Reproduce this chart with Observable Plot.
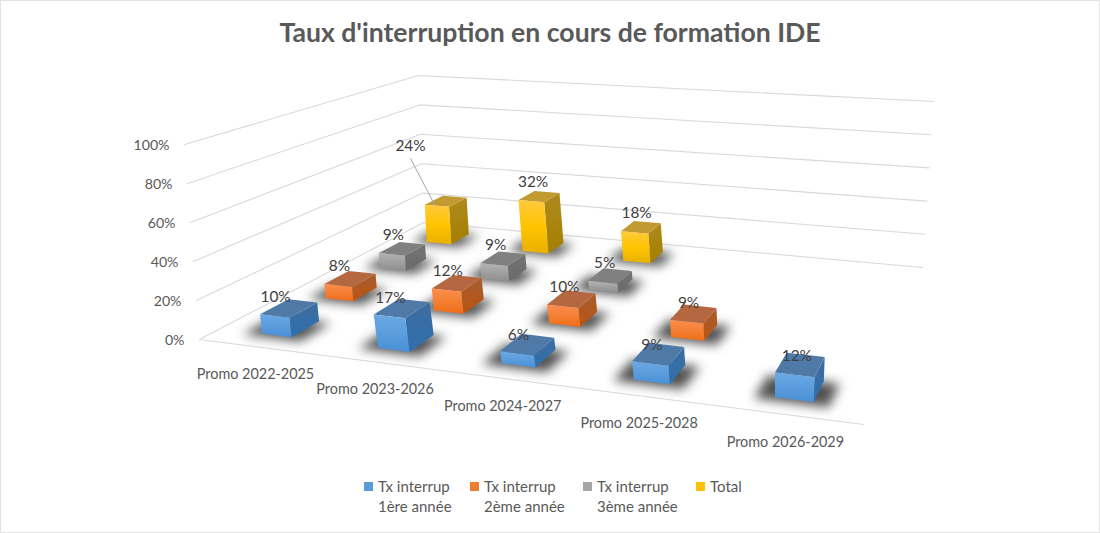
<!DOCTYPE html>
<html><head><meta charset="utf-8">
<script src="https://cdn.jsdelivr.net/npm/d3@7"></script>
<script src="https://cdn.jsdelivr.net/npm/@observablehq/plot@0.6"></script>
<style>
html,body{margin:0;background:#fff;font-family:Lato,sans-serif;color:#595959;}
#page{width:1100px;height:533px;position:relative;overflow:hidden;}
#page::after{content:"";position:absolute;left:0;top:0;right:0;bottom:0;border:1px solid #e2e2e2;box-sizing:border-box;pointer-events:none;}
#title{height:60px;line-height:64px;text-align:center;font-size:26.6px;font-weight:700;}
#chart svg{display:block;}
#legend{position:absolute;left:0;top:476px;width:100%;font-size:15px;line-height:20px;}
.lg{position:absolute;top:0;white-space:nowrap;padding-left:14px;}
.lg i{position:absolute;left:0;top:6px;width:9px;height:9px;}
</style></head><body>
<div id="page">
<div id="title">Taux d'interruption en cours de formation IDE</div>
<div id="chart"></div>
<div id="legend"></div>
</div>
<script>
const categories = ["Promo 2022-2025","Promo 2023-2026","Promo 2024-2027","Promo 2025-2028","Promo 2026-2029"];
const seriesNames = ["Tx interrup 1ère année","Tx interrup 2ème année","Tx interrup 3ème année","Total"];
const tx1 = [10,17,6,9,12];
const tx2 = [8,12,10,9,null];
const tx3 = [9,9,5,null,null];
const total = [24,32,18,null,null];
const seriesValues = [tx1,tx2,tx3,total];
const yTicks = [0,20,40,60,80,100];

// Camera calibration: the floor and ceiling of the 3D box, seen on the page
const floorQuad = [[199,339],[863,424],[922,267],[423,222]];
const ceilQuad  = [[184,144],[883,212],[933,101],[418,75]];

function homography(q){
  const [[x0,y0],[x1,y1],[x2,y2],[x3,y3]] = q;
  const dx1=x1-x2,dx2=x3-x2,sx=x0-x1+x2-x3,dy1=y1-y2,dy2=y3-y2,sy=y0-y1+y2-y3;
  const den=dx1*dy2-dx2*dy1, g=(sx*dy2-dx2*sy)/den, h=(dx1*sy-sx*dy1)/den;
  const a=x1-x0+g*x1,b=x3-x0+h*x3,d=y1-y0+g*y1,e=y3-y0+h*y3;
  return (u,v)=>{const w=g*u+h*v+1;return [(a*u+b*v+x0)/w,(d*u+e*v+y0)/w];};
}
const floorH=homography(floorQuad), ceilH=homography(ceilQuad);
function project(u,v,w){
  const p=floorH(u,v), q=ceilH(u,v), t=w/100;
  return {x:p[0]+(q[0]-p[0])*t, y:p[1]+(q[1]-p[1])*t};
}

const halfU=0.0262, halfV=0.053;
const palette=[
 {top:"#4f7aa8",front:["#6ca9e4","#4a90d6"],side:["#3d6d9f","#2f6fae"]},
 {top:"#b5683f",front:["#fb8f4f","#ee6e18"],side:["#a85c30","#b85512"]},
 {top:"#808080",front:["#b3b3b3","#8e8e8e"],side:["#737373","#6a6a6a"]},
 {top:"#c29a32",front:["#ffc93c","#ffc400","#e8b000"],side:["#ad8a1e","#a57f00"]}
];

const marks=[];
marks.push(()=>{
  const defs=d3.create("svg:defs");
  palette.forEach((p,j)=>{
    [["front",p.front],["side",p.side]].forEach(([n,c])=>{
      const g=defs.append("linearGradient").attr("id",`${n}${j}`)
        .attr("x1",0).attr("y1",0).attr("x2",0).attr("y2",1);
      c.forEach((col,i)=>g.append("stop").attr("offset",i/(c.length-1)).attr("stop-color",col));
    });
  });
  return defs.node();
});

// grid
const gridLines=[];
yTicks.forEach(t=>{
  gridLines.push({id:`l${t}`,...project(0,0,t)},{id:`l${t}`,...project(0,1,t)},{id:`l${t}`,...project(1,1,t)});
});
gridLines.push({id:"front",...project(0,0,0)},{id:"front",...project(1,0,0)});
marks.push(Plot.line(gridLines,{x:"x",y:"y",z:"id",stroke:"#d9d9d9",strokeWidth:1.1}));

// bars
const bars=[];
seriesValues.forEach((vals,j)=>vals.forEach((val,i)=>{
  if(val!=null) bars.push({i,j,val,u:(i+.5)/5,v:(j+.5)/4,id:`${i}-${j}`});
}));
function poly(b,corners){return corners.map(([su,sv,w])=>({id:b.id,...project(b.u+su*halfU,b.v+sv*halfV,w)}));}

// soft shadows on the floor
marks.push(Plot.line(bars.flatMap(b=>poly(b,[[-2.0,-1.3,0],[1.85,-1.3,0],[1.85,0.95,0],[-2.0,0.95,0]])),
  {x:"x",y:"y",z:"id",fill:"#262626",stroke:null,fillOpacity:.8,imageFilter:"blur(5.5px)"}));

// back row first, so nearer bars cover farther ones
[3,2,1,0].forEach(j=>{
  const row=bars.filter(b=>b.j===j);
  const side=row.flatMap(b=>poly(b,[[1,-1,0],[1,1,0],[1,1,b.val],[1,-1,b.val]]));
  const top=row.flatMap(b=>poly(b,[[-1,-1,b.val],[1,-1,b.val],[1,1,b.val],[-1,1,b.val]]));
  const front=row.flatMap(b=>poly(b,[[-1,-1,0],[1,-1,0],[1,-1,b.val],[-1,-1,b.val]]));
  marks.push(Plot.line(side,{x:"x",y:"y",z:"id",fill:`url(#side${j})`,stroke:null}));
  marks.push(Plot.line(top,{x:"x",y:"y",z:"id",fill:palette[j].top,stroke:null}));
  marks.push(Plot.line(front,{x:"x",y:"y",z:"id",fill:`url(#front${j})`,stroke:null}));
});

// labels sit above the front edge of each bar's top; the first Total label is pulled away with a leader
const lead=bars.find(b=>b.j===3&&b.i===0);
const anchor=b=>project(b.u,b.v-1.15*halfV,b.val);
const labelFor=b=>{
  const p=anchor(b);
  return b===lead?{x:p.x-25,y:p.y-60,text:b.val+"%"}:{x:p.x+3,y:p.y-20,text:b.val+"%"};
};
const lab=labelFor(lead), leadTop=anchor(lead);
marks.push(Plot.link([{x1:lab.x,y1:lab.y+12,x2:leadTop.x,y2:leadTop.y}],
  {x1:"x1",y1:"y1",x2:"x2",y2:"y2",stroke:"#a6a6a6",strokeWidth:1}));

marks.push(Plot.text(bars.map(labelFor),{x:"x",y:"y",text:"text",fill:"#404040",fontSize:15.4,fontFamily:"Lato"}));
marks.push(Plot.text(yTicks.map(t=>({...project(0,0,t),text:t+"%"})),
  {x:"x",y:"y",text:"text",fill:"#595959",fontSize:14.2,fontFamily:"Lato",textAnchor:"end",dx:-15,dy:1}));
marks.push(Plot.text(categories.map((c,i)=>({...project((i+.5)/5,0,0),text:c})),
  {x:"x",y:"y",text:"text",fill:"#595959",fontSize:14.4,fontFamily:"Lato",dy:27.5,dx:-1}));

const chart=Plot.plot({
  width:1100,height:410,margin:0,
  x:{domain:[0,1100],range:[0,1100],axis:null},
  y:{domain:[60,470],range:[0,410],axis:null},
  marks
});
document.getElementById("chart").append(chart);

// legend
const legendX=[364,470,583,696];
const legendColors=["#5b9bd5","#ed7d31","#a5a5a5","#ffc000"];
const lg=document.getElementById("legend");
seriesNames.forEach((n,j)=>{
  const d=document.createElement("div");d.className="lg";d.style.left=legendX[j]+"px";
  const m=n.match(/^(Tx interrup) (.*)$/);
  d.innerHTML=`<i style="background:${legendColors[j]}"></i>`+(m?`${m[1]}<br>${m[2]}`:n);
  lg.append(d);
});
</script>
</body></html>
